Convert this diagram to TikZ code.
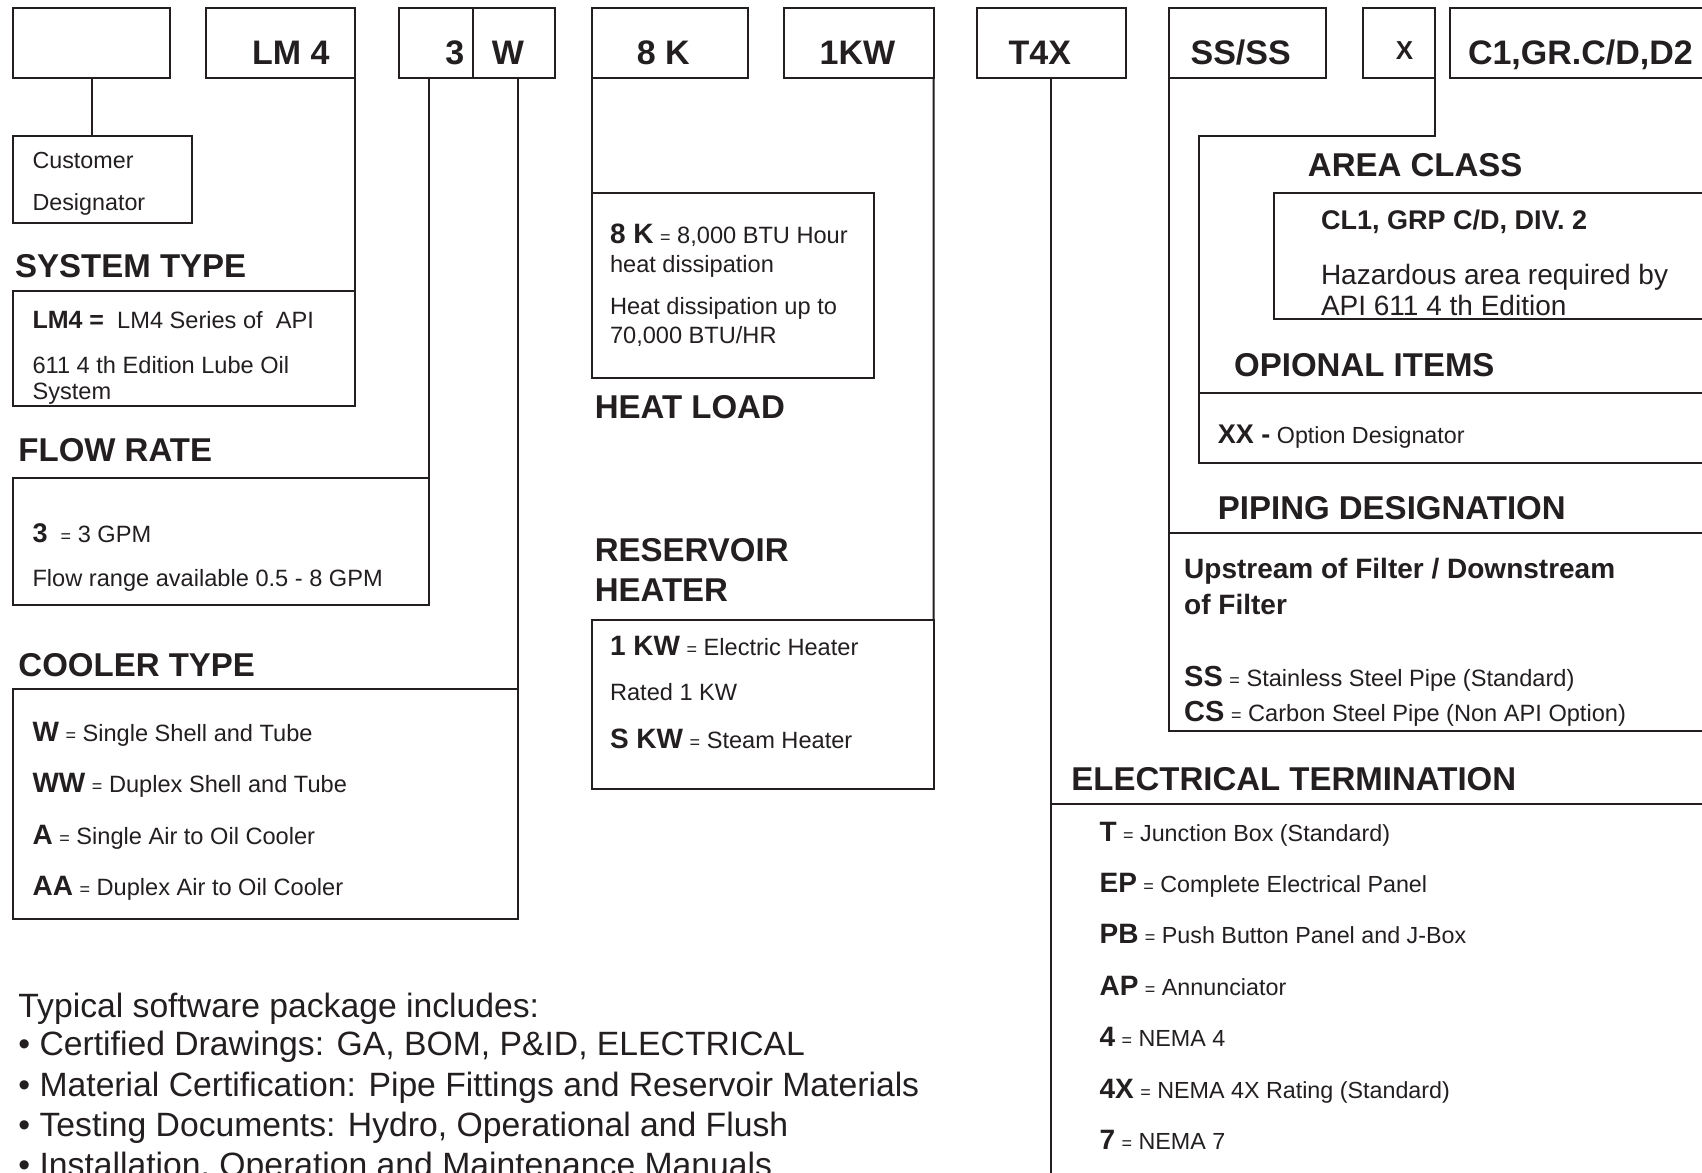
\documentclass[tikz,border=0pt]{standalone}
\usepackage{fontspec}
\setmainfont{Liberation Sans}
\usetikzlibrary{fit}
\definecolor{ink}{HTML}{231F20}
\newcommand\fz[1]{\fontsize{#1pt}{#1pt}\selectfont}
\tikzset{
  frame/.style={draw=ink, line width=2pt},
  box/.style={draw=ink, line width=2pt, rectangle, inner sep=0pt, outer sep=0pt},
  txt/.style={anchor=base west, inner sep=0pt, outer sep=0pt, text=ink},
  code/.style={txt, anchor=base, font=\fz{34}\bfseries},
  head/.style={txt, font=\fz{33}\bfseries},
  body/.style={txt, font=\fz{23.6}},
  small/.style={txt, font=\fz{23.3}},
  big/.style={txt, font=\fz{33.7}},
}
\newcommand\ky[2]{{\fz{#1}\bfseries #2}}
\newcommand\eq{{\fz{18}=}}
\begin{document}
\begin{tikzpicture}[x=1.0855pt,y=-1.0855pt]
\clip (0,0) rectangle (1568,1080);
\fill[white] (0,0) rectangle (1568,1080);

% ---- top code boxes
\node[box, fit={(12,7)(157,72)}] (cust) {};
\node[box, fit={(190,7)(327,72)}] (lm4) {};
\node[box, fit={(368,7)(511,72)}] (tw) {};
\coordinate (dv) at (436,7);
\draw[frame] (dv) -- (dv |- tw.south);
\node[box, fit={(545,7)(689,72)}] (k8) {};
\node[box, fit={(722,7)(860,72)}] (kw) {};
\node[box, fit={(900,7)(1037,72)}] (tx) {};
\node[box, fit={(1077,7)(1222,72)}] (ss) {};
\node[box, fit={(1256,7)(1322,72)}] (xb) {};
\node[box, fit={(1336,7)(1620,72)}] (cg) {};

\node[code] (l1) at (268,59) {LM 4};
\node[code] (l2) at (419,59) {3};
\node[code] (l3) at (468,59) {W};
\node[code] (l4) at (611,59) {8 K};
\node[code] (l5) at (790,59) {1KW};
\node[code] (l6) at (958,59) {T4X};
\node[code] (l7) at (1143,59) {SS/SS};
\node[code, font=\fz{26}\bfseries] (l8) at (1294,55) {X};
\node[code] (l9) at (1456,59) {C1,GR.C/D,D2};

% ---- description boxes
\node[box, fit={(12,125)(177,205)}] (cdes) {};
\node[box, fit={(12,268)(327,374)}] (sys) {};
\node[box, fit={(12,440)(395,557)}] (flow) {};
\node[box, fit={(12,635)(477,847)}] (cool) {};
\node[box, fit={(545,178)(805,348)}] (heat) {};
\node[box, fit={(545,571)(860,727)}] (res) {};
\node[box, fit={(1174,178)(1620,294)}] (area) {};
\node[box, fit={(1105,362)(1620,427)}] (opt) {};
\node[box, fit={(1077,491)(1620,673)}] (pipe) {};
\node[box, fit={(968,741)(1620,1120)}] (elec) {};

% ---- connectors
\draw[frame] (cust.south) -- (cust.south |- cdes.north);
\draw[frame] (lm4.south east) -- (sys.north east);
\draw[frame] (tw.south -| flow.north east) -- (flow.north east);
\draw[frame] (tw.south -| cool.north east) -- (cool.north east);
\draw[frame] (k8.south west) -- (heat.north west);
\draw[frame] (kw.south east) -- (res.north east);
\draw[frame] (tx.south -| elec.north west) -- (elec.north west);
\draw[frame] (ss.south west) -- (pipe.north west);
\coordinate (xk) at (1105,125);
\draw[frame] (xb.south east) |- (xk) -- (opt.north west);

% ---- customer
\node[small] (c1) at (30,155) {Customer};
\node[small] (c2) at (30,194) {Designator};

% ---- system type
\node[head] (h1) at (14,256) {SYSTEM TYPE};
\node[body] (s1) at (30,303) {\ky{25}{LM4 =}\ \ LM4 Series of \ API};
\node[body] (s2) at (30,344) {611 4 th Edition Lube Oil};
\node[body] (s3) at (30,368) {System};

% ---- flow rate
\node[head] (h2) at (17,425) {FLOW RATE};
\node[body] (f1) at (30,500) {\ky{27}{3} \ \eq\ 3 GPM};
\node[body] (f2) at (30,540) {Flow range available 0.5 - 8 GPM};

% ---- cooler type
\node[head] (h3) at (17,623) {COOLER TYPE};
\node[body] (w1) at (30,683) {\ky{28}{W} \eq\ Single Shell and Tube};
\node[body] (w2) at (30,730) {\ky{28}{WW} \eq\ Duplex Shell and Tube};
\node[body] (w3) at (30,778) {\ky{28}{A} \eq\ Single Air to Oil Cooler};
\node[body] (w4) at (30,825) {\ky{28}{AA} \eq\ Duplex Air to Oil Cooler};

% ---- heat load
\node[body] (k1) at (562,224) {\ky{28}{8 K} \eq\ 8,000 BTU Hour};
\node[body] (k2) at (562,251) {heat dissipation};
\node[body] (k3) at (562,290) {Heat dissipation up to};
\node[body] (k4) at (562,316) {70,000 BTU/HR};
\node[head] (h4) at (548,386) {HEAT LOAD};

% ---- reservoir heater
\node[head] (h5) at (548,517) {RESERVOIR};
\node[head] (h6) at (548,554) {HEATER};
\node[body] (r1) at (562,604) {\ky{28}{1 KW} \eq\ Electric Heater};
\node[body] (r2) at (562,645) {Rated 1 KW};
\node[body] (r3) at (562,690) {\ky{28}{S KW} \eq\ Steam Heater};

% ---- area class
\node[head] (h7) at (1205,163) {AREA CLASS};
\node[txt, font=\fz{27}\bfseries] (a1) at (1217,211) {CL1, GRP C/D, DIV. 2};
\node[txt, font=\fz{28}] (a2) at (1217,262) {Hazardous area required by};
\node[txt, font=\fz{28}] (a3) at (1217,291) {API 611 4 th Edition};

% ---- optional items
\node[head] (h8) at (1137,347) {OPIONAL ITEMS};
\node[small] (o1) at (1122,409) {\ky{27}{XX -} Option Designator};

% ---- piping designation
\node[head] (h9) at (1122,479) {PIPING DESIGNATION};
\node[txt, font=\fz{28}\bfseries] (p1) at (1091,533) {Upstream of Filter / Downstream};
\node[txt, font=\fz{28}\bfseries] (p2) at (1091,566) {of Filter};
\node[body] (p3) at (1091,632) {\ky{29}{SS} \eq\ Stainless Steel Pipe (Standard)};
\node[body] (p4) at (1091,665) {\ky{29}{CS} \eq\ Carbon Steel Pipe (Non API Option)};

% ---- electrical termination
\node[head] (h10) at (987,728) {ELECTRICAL TERMINATION};
\node[small] (e1) at (1013,775) {\ky{28}{T} \eq\ Junction Box (Standard)};
\node[small] (e2) at (1013,822) {\ky{28}{EP} \eq\ Complete Electrical Panel};
\node[small] (e3) at (1013,869) {\ky{28}{PB} \eq\ Push Button Panel and J-Box};
\node[small] (e4) at (1013,917) {\ky{28}{AP} \eq\ Annunciator};
\node[small] (e5) at (1013,964) {\ky{28}{4} \eq\ NEMA 4};
\node[small] (e6) at (1013,1012) {\ky{28}{4X} \eq\ NEMA 4X Rating (Standard)};
\node[small] (e7) at (1013,1059) {\ky{28}{7} \eq\ NEMA 7};

% ---- software package
\node[big] (b0) at (17,937) {Typical software package includes:};
\node[big] (b1) at (17,972) {• Certified Drawings: GA, BOM, P\&ID, ELECTRICAL};
\node[big] (b2) at (17,1010) {• Material Certification: Pipe Fittings and Reservoir Materials};
\node[big] (b3) at (17,1047) {• Testing Documents: Hydro, Operational and Flush};
\node[big] (b4) at (17,1084) {• Installation, Operation and Maintenance Manuals};
\end{tikzpicture}
\end{document}
